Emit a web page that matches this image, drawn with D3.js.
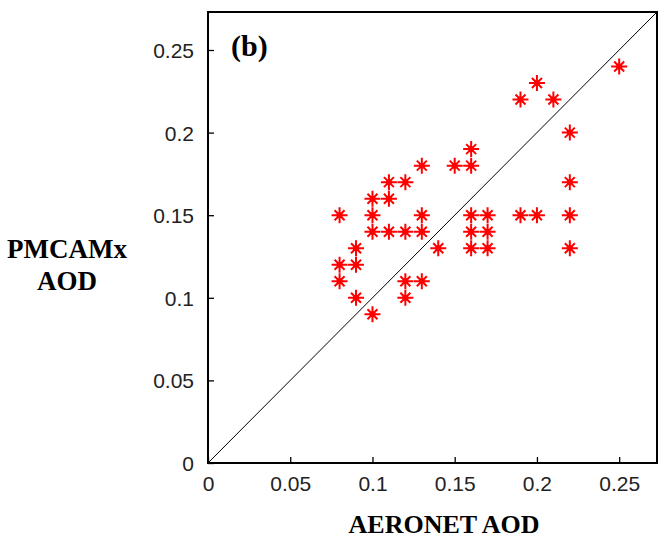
<!DOCTYPE html>
<html>
<head>
<meta charset="utf-8">
<script src="https://cdn.jsdelivr.net/npm/d3@7"></script>
<style>
  body { margin: 0; background: #fff; }
  svg { display: block; }
</style>
</head>
<body>
<svg id="chart" width="663" height="550"></svg>
<script>
// AERONET AOD (x) vs PMCAMx AOD (y)
const aeronet = [0.25, 0.20, 0.19, 0.21, 0.22,
    0.16, 0.13, 0.15, 0.16,
    0.11, 0.12, 0.22,
    0.10, 0.11,
    0.08, 0.10, 0.13, 0.16, 0.17, 0.19, 0.20, 0.22,
    0.10, 0.11, 0.12, 0.13, 0.16, 0.17,
    0.09, 0.14, 0.16, 0.17, 0.22,
    0.08, 0.09,
    0.08, 0.12, 0.13,
    0.09, 0.12,
    0.10];
const pmcamx = [0.24, 0.23, 0.22, 0.22, 0.20,
    0.19, 0.18, 0.18, 0.18,
    0.17, 0.17, 0.17,
    0.16, 0.16,
    0.15, 0.15, 0.15, 0.15, 0.15, 0.15, 0.15, 0.15,
    0.14, 0.14, 0.14, 0.14, 0.14, 0.14,
    0.13, 0.13, 0.13, 0.13, 0.13,
    0.12, 0.12,
    0.11, 0.11, 0.11,
    0.10, 0.10,
    0.09];
const tickValues = [0, 0.05, 0.1, 0.15, 0.2, 0.25];
const tickLabels = ['0', '0.05', '0.1', '0.15', '0.2', '0.25'];
const axisMax = 0.273;

const svg = d3.select('#chart');
const plotLeft = 208, plotRight = 657, plotTop = 12, plotBottom = 463;

const x = d3.scaleLinear().domain([0, axisMax]).range([plotLeft, plotRight]);
const y = d3.scaleLinear().domain([0, axisMax]).range([plotBottom, plotTop]);

// 1:1 line
svg.append('line')
    .attr('x1', x(0)).attr('y1', y(0))
    .attr('x2', x(axisMax)).attr('y2', y(axisMax))
    .attr('stroke', '#000')
    .attr('stroke-width', 1);

// axes, ticks pointing inward
const xAxis = d3.axisBottom(x)
    .tickValues(tickValues)
    .tickFormat((d, i) => tickLabels[i])
    .tickSizeInner(-6)
    .tickSizeOuter(0)
    .tickPadding(13);
const yAxis = d3.axisLeft(y)
    .tickValues(tickValues)
    .tickFormat((d, i) => tickLabels[i])
    .tickSizeInner(-6)
    .tickSizeOuter(0)
    .tickPadding(14);

const gx = svg.append('g').attr('transform', `translate(0,${plotBottom})`).call(xAxis);
const gy = svg.append('g').attr('transform', `translate(${plotLeft},0)`).call(yAxis);

[gx, gy].forEach(g => {
    g.select('.domain').remove();
    g.selectAll('.tick line').attr('stroke', '#000').attr('stroke-width', 1.3);
    g.selectAll('.tick text')
        .style('font-family', '"Liberation Sans", Arial, sans-serif')
        .style('font-size', '21px')
        .style('fill', '#222');
});
gx.selectAll('.tick text').attr('dy', '0.71em');
gy.selectAll('.tick text').attr('dy', '0.36em');

// frame
svg.append('rect')
    .attr('x', plotLeft).attr('y', plotTop)
    .attr('width', plotRight - plotLeft).attr('height', plotBottom - plotTop)
    .attr('fill', 'none')
    .attr('stroke', '#000')
    .attr('stroke-width', 2);

// red asterisk markers
const star = 'M0,-8V8M-8,0H8M-5,-5L5,5M-5,5L5,-5';
const pts = aeronet.map((v, i) => [v, pmcamx[i]]);
const marks = svg.append('g').selectAll('g')
    .data(pts)
    .join('g')
    .attr('transform', d => `translate(${x(d[0])},${y(d[1])})`);
marks.append('path')
    .attr('d', star)
    .attr('stroke', '#ff0000')
    .attr('stroke-width', 2)
    .attr('fill', 'none');
marks.append('circle')
    .attr('r', 3)
    .attr('fill', '#ff0000');

// labels
const serif = '"Liberation Serif", "Times New Roman", serif';
svg.append('text')
    .attr('x', 231).attr('y', 56)
    .style('font-family', serif)
    .style('font-weight', 'bold')
    .style('font-size', '30px')
    .text('(b)');

svg.append('text')
    .attr('x', 444).attr('y', 533)
    .attr('text-anchor', 'middle')
    .style('font-family', serif)
    .style('font-weight', 'bold')
    .style('font-size', '26px')
    .text('AERONET AOD');

const ylab = svg.append('text')
    .attr('text-anchor', 'middle')
    .style('font-family', serif)
    .style('font-weight', 'bold')
    .style('font-size', '27px');
ylab.append('tspan').attr('x', 67).attr('y', 258).text('PMCAMx');
ylab.append('tspan').attr('x', 67).attr('y', 290).text('AOD');
</script>
</body>
</html>
